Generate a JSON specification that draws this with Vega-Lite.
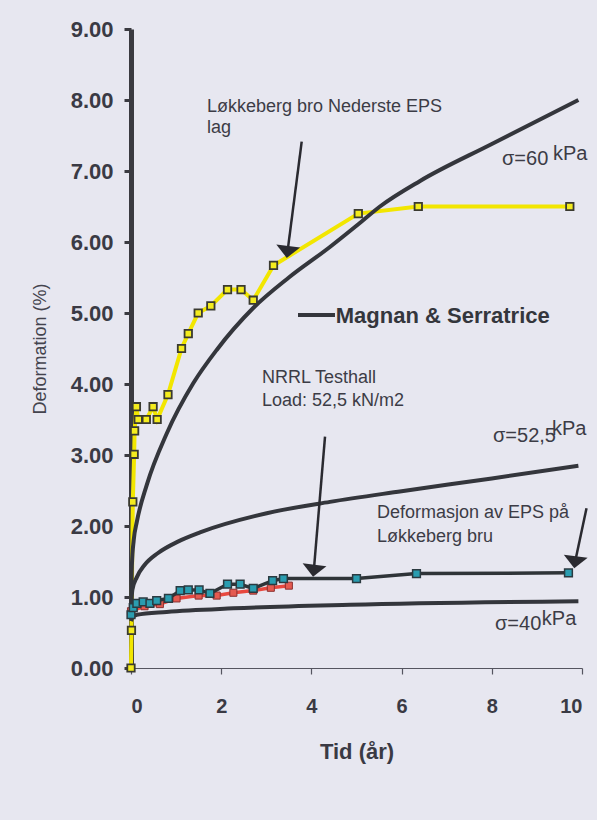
{
  "$schema": "https://vega.github.io/schema/vega-lite/v6.json",
  "width": 451,
  "height": 639,
  "autosize": {"type": "none"},
  "padding": {"left": 131, "top": 29, "right": 15, "bottom": 152},
  "background": "#e7e7f0",
  "config": {"view": {"stroke": null}, "font": "Liberation Sans"},
  "datasets": {
    "series": [
      {"s": "M60", "t": 0, "d": 0.85}, {"s": "M60", "t": 0.02, "d": 1.45}, {"s": "M60", "t": 0.06, "d": 1.8}, {"s": "M60", "t": 0.13, "d": 2.06}, {"s": "M60", "t": 0.35, "d": 2.58}, {"s": "M60", "t": 0.79, "d": 3.3}, {"s": "M60", "t": 1.38, "d": 4.01}, {"s": "M60", "t": 1.9, "d": 4.48}, {"s": "M60", "t": 2.71, "d": 5.07}, {"s": "M60", "t": 3.5, "d": 5.5}, {"s": "M60", "t": 4.41, "d": 5.93}, {"s": "M60", "t": 5.04, "d": 6.25}, {"s": "M60", "t": 5.52, "d": 6.5}, {"s": "M60", "t": 6.41, "d": 6.86}, {"s": "M60", "t": 8.0, "d": 7.38}, {"s": "M60", "t": 9.92, "d": 8.0},
      {"s": "M52", "t": 0, "d": 0.85}, {"s": "M52", "t": 0.03, "d": 1.1}, {"s": "M52", "t": 0.13, "d": 1.28}, {"s": "M52", "t": 0.3, "d": 1.45}, {"s": "M52", "t": 0.6, "d": 1.62}, {"s": "M52", "t": 1.04, "d": 1.78}, {"s": "M52", "t": 1.53, "d": 1.91}, {"s": "M52", "t": 3.01, "d": 2.18}, {"s": "M52", "t": 4.41, "d": 2.34}, {"s": "M52", "t": 6.0, "d": 2.49}, {"s": "M52", "t": 8.0, "d": 2.67}, {"s": "M52", "t": 9.92, "d": 2.85},
      {"s": "M40", "t": 0, "d": 0.66}, {"s": "M40", "t": 0.03, "d": 0.71}, {"s": "M40", "t": 0.13, "d": 0.75}, {"s": "M40", "t": 0.79, "d": 0.79}, {"s": "M40", "t": 2.27, "d": 0.84}, {"s": "M40", "t": 4.86, "d": 0.89}, {"s": "M40", "t": 9.92, "d": 0.94},
      {"s": "Y", "t": 0, "d": 0}, {"s": "Y", "t": 0.01, "d": 0.53}, {"s": "Y", "t": 0.04, "d": 2.34}, {"s": "Y", "t": 0.07, "d": 3.01}, {"s": "Y", "t": 0.08, "d": 3.34}, {"s": "Y", "t": 0.12, "d": 3.68}, {"s": "Y", "t": 0.16, "d": 3.5}, {"s": "Y", "t": 0.34, "d": 3.5}, {"s": "Y", "t": 0.49, "d": 3.68}, {"s": "Y", "t": 0.58, "d": 3.5}, {"s": "Y", "t": 0.82, "d": 3.85}, {"s": "Y", "t": 1.12, "d": 4.5}, {"s": "Y", "t": 1.27, "d": 4.71}, {"s": "Y", "t": 1.49, "d": 5.0}, {"s": "Y", "t": 1.77, "d": 5.1}, {"s": "Y", "t": 2.14, "d": 5.33}, {"s": "Y", "t": 2.44, "d": 5.33}, {"s": "Y", "t": 2.71, "d": 5.18}, {"s": "Y", "t": 3.16, "d": 5.67}, {"s": "Y", "t": 5.04, "d": 6.4}, {"s": "Y", "t": 6.37, "d": 6.5}, {"s": "Y", "t": 9.73, "d": 6.5},
      {"s": "R", "t": 0, "d": 0.8}, {"s": "R", "t": 0.3, "d": 0.87}, {"s": "R", "t": 0.64, "d": 0.9}, {"s": "R", "t": 1.01, "d": 0.98}, {"s": "R", "t": 1.5, "d": 1.02}, {"s": "R", "t": 1.9, "d": 1.02}, {"s": "R", "t": 2.27, "d": 1.06}, {"s": "R", "t": 2.71, "d": 1.09}, {"s": "R", "t": 3.1, "d": 1.13}, {"s": "R", "t": 3.5, "d": 1.16},
      {"s": "C", "t": 0, "d": 0.75}, {"s": "C", "t": 0.05, "d": 0.85}, {"s": "C", "t": 0.13, "d": 0.91}, {"s": "C", "t": 0.27, "d": 0.93}, {"s": "C", "t": 0.42, "d": 0.91}, {"s": "C", "t": 0.57, "d": 0.95}, {"s": "C", "t": 0.83, "d": 0.98}, {"s": "C", "t": 1.09, "d": 1.09}, {"s": "C", "t": 1.27, "d": 1.1}, {"s": "C", "t": 1.51, "d": 1.1}, {"s": "C", "t": 1.75, "d": 1.05}, {"s": "C", "t": 2.14, "d": 1.18}, {"s": "C", "t": 2.42, "d": 1.18}, {"s": "C", "t": 2.71, "d": 1.12}, {"s": "C", "t": 3.14, "d": 1.23}, {"s": "C", "t": 3.38, "d": 1.26}, {"s": "C", "t": 5.0, "d": 1.26}, {"s": "C", "t": 6.33, "d": 1.33}, {"s": "C", "t": 9.7, "d": 1.34}
    ],
    "arrows": [
      {"t": 3.785, "d": 7.413, "t2": 3.47, "d2": 5.86},
      {"t": 4.302, "d": 3.258, "t2": 4.053, "d2": 1.37},
      {"t": 10.1, "d": 2.249, "t2": 9.845, "d2": 1.49}
    ],
    "heads": [
      {"t": 3.47, "d": 5.86},
      {"t": 4.053, "d": 1.37},
      {"t": 9.845, "d": 1.49}
    ],
    "notes": [
      {"label": "Løkkeberg bro Nederste EPS", "t": 1.685, "d": 7.831},
      {"label": "lag", "t": 1.685, "d": 7.535},
      {"label": "NRRL Testhall", "t": 2.905, "d": 4.014},
      {"label": "Load: 52,5 kN/m2", "t": 2.905, "d": 3.69},
      {"label": "Deformasjon av EPS på", "t": 5.455, "d": 2.113},
      {"label": "Løkkeberg bru", "t": 5.455, "d": 1.775}
    ],
    "sigma": [
      {"label": "σ=60", "t": 8.226, "d": 7.085},
      {"label": "kPa", "t": 9.357, "d": 7.155},
      {"label": "σ=52,5", "t": 8.027, "d": 3.187},
      {"label": "kPa", "t": 9.335, "d": 3.282},
      {"label": "σ=40", "t": 8.071, "d": 0.535},
      {"label": "kPa", "t": 9.11, "d": 0.606}
    ],
    "legendline": [{"t": 3.703, "d": 4.972, "t2": 4.523, "d2": 4.972}],
    "legendtext": [{"label": "Magnan & Serratrice", "t": 4.54, "d": 4.958}]
  },
  "encoding": {
    "x": {
      "field": "t", "type": "quantitative",
      "scale": {"domain": [0, 10], "nice": false, "zero": false},
      "axis": {
        "title": "Tid (år)", "values": [0, 2, 4, 6, 8, 10], "format": "d", "grid": false,
        "domainColor": "#555560", "domainWidth": 1.2, "tickColor": "#555560", "tickWidth": 1.2, "tickSize": 6,
        "labelFontSize": 20, "labelFontWeight": "bold", "labelColor": "#3a3a44", "labelPadding": 22,
        "titleFontSize": 22, "titleFontWeight": "bold", "titleColor": "#3a3a44", "titleY": 90, "titleBaseline": "alphabetic"
      }
    },
    "y": {
      "field": "d", "type": "quantitative",
      "scale": {"domain": [0, 9], "nice": false},
      "axis": {
        "title": "Deformation (%)", "values": [0, 1, 2, 3, 4, 5, 6, 7, 8, 9], "format": ".2f", "grid": false,
        "domainColor": "#3a3a40", "domainWidth": 5, "tickColor": "#3a3a40", "tickWidth": 3, "tickSize": 7,
        "labelFontSize": 22, "labelFontWeight": "bold", "labelColor": "#3a3a44", "labelPadding": 11,
        "titleFontSize": 18, "titleFontWeight": "normal", "titleColor": "#44444e",
        "titleAngle": 270, "titleX": -86, "titleY": 319.5, "titleAlign": "center", "titleBaseline": "alphabetic"
      }
    }
  },
  "layer": [
    {
      "data": {"name": "series"},
      "transform": [{"filter": "datum.s === 'Y'"}],
      "mark": {"type": "line", "color": "#f2e600", "strokeWidth": 4}
    },
    {
      "data": {"name": "series"},
      "transform": [{"filter": "datum.s === 'M60' || datum.s === 'M52' || datum.s === 'M40'"}],
      "mark": {"type": "line", "color": "#34363c", "strokeWidth": 4, "interpolate": "monotone"},
      "encoding": {"detail": {"field": "s"}}
    },
    {
      "data": {"name": "series"},
      "transform": [{"filter": "datum.s === 'R'"}],
      "mark": {"type": "line", "color": "#e8483f", "strokeWidth": 3.5}
    },
    {
      "data": {"name": "series"},
      "transform": [{"filter": "datum.s === 'R'"}],
      "mark": {"type": "point", "shape": "square", "filled": true, "fill": "#e55a50", "stroke": "#8a3030", "strokeWidth": 1, "size": 50, "opacity": 1}
    },
    {
      "data": {"name": "series"},
      "transform": [{"filter": "datum.s === 'C'"}],
      "mark": {"type": "line", "color": "#2f3438", "strokeWidth": 3.5}
    },
    {
      "data": {"name": "series"},
      "transform": [{"filter": "datum.s === 'C'"}],
      "mark": {"type": "point", "shape": "square", "filled": true, "fill": "#2a9db0", "stroke": "#2b3a40", "strokeWidth": 1.5, "size": 60, "opacity": 1}
    },
    {
      "data": {"name": "series"},
      "transform": [{"filter": "datum.s === 'Y'"}],
      "mark": {"type": "point", "shape": "square", "filled": true, "fill": "#f4ec1e", "stroke": "#3a3a30", "strokeWidth": 1.8, "size": 55, "opacity": 1}
    },
    {
      "data": {"name": "arrows"},
      "mark": {"type": "rule", "color": "#2a2a30", "strokeWidth": 2.5},
      "encoding": {"x2": {"field": "t2"}, "y2": {"field": "d2"}}
    },
    {
      "data": {"name": "heads"},
      "mark": {"type": "point", "shape": "M-1,-0.5L1,-0.5L0,0.5Z", "size": 576, "filled": true, "fill": "#2a2a30", "stroke": null, "opacity": 1, "angle": 7}
    },
    {
      "data": {"name": "legendline"},
      "mark": {"type": "rule", "color": "#34363c", "strokeWidth": 4},
      "encoding": {"x2": {"field": "t2"}, "y2": {"field": "d2"}}
    },
    {
      "data": {"name": "legendtext"},
      "mark": {"type": "text", "align": "left", "baseline": "middle", "fontSize": 22, "fontWeight": "bold", "color": "#34363c"},
      "encoding": {"text": {"field": "label"}}
    },
    {
      "data": {"name": "notes"},
      "mark": {"type": "text", "align": "left", "baseline": "alphabetic", "fontSize": 18, "color": "#3c3c46"},
      "encoding": {"text": {"field": "label"}}
    },
    {
      "data": {"name": "sigma"},
      "mark": {"type": "text", "align": "left", "baseline": "alphabetic", "fontSize": 20, "color": "#3c3c46"},
      "encoding": {"text": {"field": "label"}}
    }
  ]
}
